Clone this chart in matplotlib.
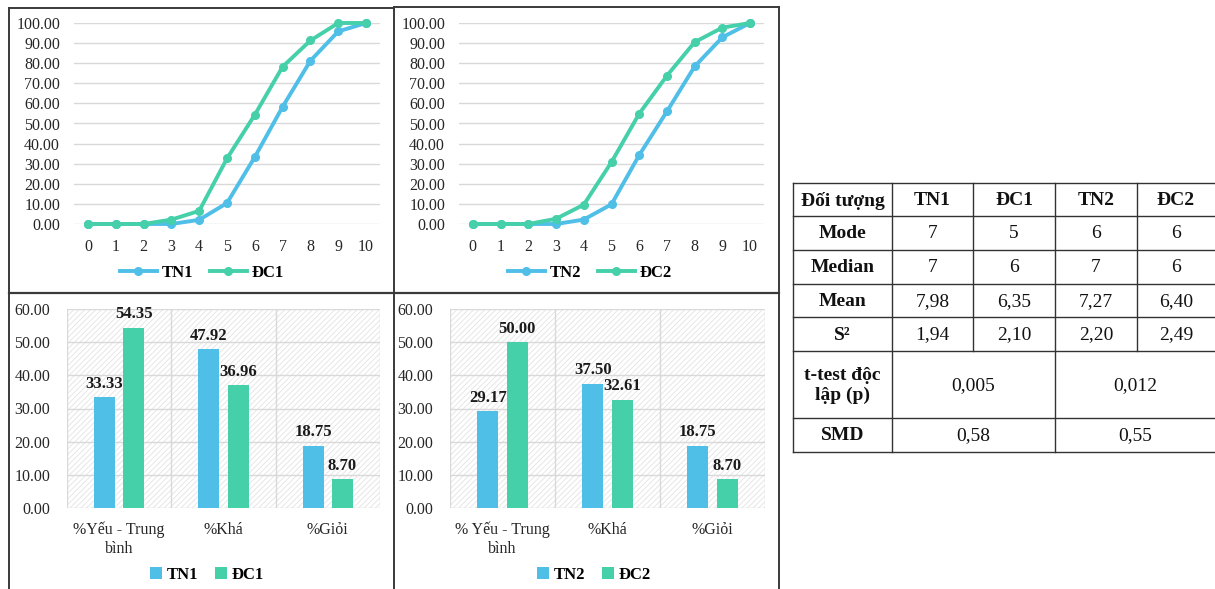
import matplotlib.pyplot as plt
import numpy as np
from matplotlib.patches import Rectangle

plt.rcParams['font.family'] = ['Liberation Serif', 'DejaVu Serif']
plt.rcParams['hatch.color'] = '#e3e3e3'
plt.rcParams['hatch.linewidth'] = 0.6

# cumulative frequency (%) by score
scores = list(range(11))
tn1 = [0, 0, 0, 0, 2.08, 10.42, 33.33, 58.33, 81.25, 95.83, 100]
dc1 = [0, 0, 0, 2.17, 6.52, 32.61, 54.35, 78.26, 91.30, 100, 100]
tn2 = [0, 0, 0, 0, 2.2, 9.8, 34.3, 56.0, 78.4, 92.9, 100]
dc2 = [0, 0, 0, 2.6, 9.6, 30.8, 54.9, 73.8, 90.5, 97.7, 100]

# grade groups (%)
groups1 = ['%Yếu - Trung\nbình', '%Khá', '%Giỏi']
groups2 = ['% Yếu - Trung\nbình', '%Khá', '%Giỏi']
bar_tn1 = [33.33, 47.92, 18.75]
bar_dc1 = [54.35, 36.96, 8.70]
bar_tn2 = [29.17, 37.50, 18.75]
bar_dc2 = [50.00, 32.61, 8.70]

# statistics table
tbl_header = ['Đối tượng', 'TN1', 'ĐC1', 'TN2', 'ĐC2']
tbl_rows = [['Mode', '7', '5', '6', '6'],
            ['Median', '7', '6', '7', '6'],
            ['Mean', '7,98', '6,35', '7,27', '6,40'],
            ['S²', '1,94', '2,10', '2,20', '2,49']]
ttest_vals = ['0,005', '0,012']
smd_vals = ['0,58', '0,55']

BLUE = '#4fbfe8'
GREEN = '#45d0aa'
GRID = '#d9d9d9'
W, H = 1215, 589


def rect(x0, y0, x1, y1):
    # pixel box -> figure fraction
    return [x0 / W, 1 - y1 / H, (x1 - x0) / W, (y1 - y0) / H]


def line_chart(ax, a, b, la, lb, cx):
    ax.plot(scores, a, color=BLUE, lw=2.8, marker='o', ms=5.5, label=la, clip_on=False, zorder=3)
    ax.plot(scores, b, color=GREEN, lw=2.8, marker='o', ms=5.5, label=lb, clip_on=False, zorder=4)
    ax.set_xlim(-0.5, 10.5)
    ax.set_ylim(0, 100)
    ax.set_xticks(scores)
    ax.set_yticks(np.arange(0, 101, 10))
    ax.yaxis.set_major_formatter(plt.FormatStrFormatter('%.2f'))
    ax.grid(axis='y', color=GRID, lw=1)
    ax.set_axisbelow(True)
    for s in ax.spines.values():
        s.set_visible(False)
    ax.tick_params(length=0, labelsize=11.5, colors='#262626')
    ax.tick_params(axis='x', pad=11)
    ax.tick_params(axis='y', pad=10)
    ax.legend(loc='center', bbox_to_anchor=(cx / W, 1 - 273 / H), bbox_transform=fig.transFigure,
              ncol=2, frameon=False, prop={'weight': 'bold', 'size': 12},
              handlelength=2.2, columnspacing=1.0, handletextpad=0.3)


def bar_chart(ax, cats, a, b, la, lb, cx):
    x = np.arange(len(cats))
    ax.add_patch(Rectangle((0, 0), 1, 1, transform=ax.transAxes, facecolor='white',
                           hatch='//////', lw=0, zorder=0))
    ba = ax.bar(x - 0.14, a, width=0.2, color=BLUE, label=la, zorder=3)
    bb = ax.bar(x + 0.14, b, width=0.2, color=GREEN, label=lb, zorder=3)
    for bars in (ba, bb):
        ax.bar_label(bars, fmt='%.2f', padding=4, fontsize=12, fontweight='bold', color='#1a1a1a')
    ax.set_xlim(-0.5, 2.5)
    ax.set_ylim(0, 60)
    ax.set_yticks(np.arange(0, 61, 10))
    ax.yaxis.set_major_formatter(plt.FormatStrFormatter('%.2f'))
    ax.set_xticks(x)
    ax.set_xticklabels(cats, linespacing=1.25)
    ax.set_xticks(np.arange(-0.5, 3, 1), minor=True)
    ax.grid(axis='y', color=GRID, lw=1)
    ax.grid(axis='x', which='minor', color=GRID, lw=1)
    ax.set_axisbelow(True)
    for s in ax.spines.values():
        s.set_visible(False)
    ax.tick_params(which='both', length=0, labelsize=11.5, colors='#262626')
    ax.tick_params(axis='x', pad=10)
    ax.tick_params(axis='y', pad=12)
    ax.legend(loc='center', bbox_to_anchor=(cx / W, 1 - 575 / H), bbox_transform=fig.transFigure,
              ncol=2, frameon=False, prop={'weight': 'bold', 'size': 12},
              handlelength=0.7, handleheight=0.7, columnspacing=1.0, handletextpad=0.3)


fig = plt.figure(figsize=(W / 100, H / 100), dpi=100)

ax1 = fig.add_axes(rect(74, 23, 380, 224))
ax2 = fig.add_axes(rect(459, 23, 764, 224))
ax3 = fig.add_axes(rect(67, 309, 380, 508))
ax4 = fig.add_axes(rect(450, 309, 765, 508))

line_chart(ax1, tn1, dc1, 'TN1', 'ĐC1', 202)
line_chart(ax2, tn2, dc2, 'TN2', 'ĐC2', 590)
bar_chart(ax3, groups1, bar_tn1, bar_dc1, 'TN1', 'ĐC1', 207)
bar_chart(ax4, groups2, bar_tn2, bar_dc2, 'TN2', 'ĐC2', 594)

# overlay in pixel coordinates for panel borders and the table
ov = fig.add_axes([0, 0, 1, 1], zorder=-1)
ov.set_xlim(0, W)
ov.set_ylim(H, 0)
ov.axis('off')
bc = '#3a3a3a'
ov.plot([9, 9], [8, H], color=bc, lw=1.4)
ov.plot([394, 394], [7, H], color=bc, lw=1.4)
ov.plot([779, 779], [7, H], color=bc, lw=1.4)
ov.plot([9, 394], [8, 8], color=bc, lw=1.4)
ov.plot([394, 779], [7, 7], color=bc, lw=1.4)
ov.plot([9, 779], [293, 293], color=bc, lw=1.6)

cols = [793, 892, 973, 1055, 1137, 1219]
rows = [183, 216, 250, 284, 317, 351, 418, 452]
tc = '#333333'
for y in rows:
    ov.plot([cols[0], cols[-1]], [y, y], color=tc, lw=1.0)
for x in (cols[0], cols[1], cols[3]):
    ov.plot([x, x], [rows[0], rows[-1]], color=tc, lw=1.0)
for x in (cols[2], cols[4]):
    ov.plot([x, x], [rows[0], rows[5]], color=tc, lw=1.0)

centers = [(cols[i] + cols[i + 1]) / 2 for i in range(5)]
centers[4] = 1176
fs = 14
for i, h in enumerate(tbl_header):
    ov.text(centers[i], (rows[0] + rows[1]) / 2 + 1, h, ha='center', va='center',
            fontsize=fs, fontweight='bold', color='#111111')
for r, vals in enumerate(tbl_rows):
    yc = (rows[r + 1] + rows[r + 2]) / 2 + 1
    for i, v in enumerate(vals):
        ov.text(centers[i], yc, v, ha='center', va='center', fontsize=fs,
                fontweight='bold' if i == 0 else 'normal', color='#111111')
for r, label, vals in ((5, 't-test độc\nlập (p)', ttest_vals), (6, 'SMD', smd_vals)):
    yc = (rows[r] + rows[r + 1]) / 2 + 1
    ov.text(centers[0], yc, label, ha='center', va='center', fontsize=fs,
            fontweight='bold', color='#111111', linespacing=1.25)
    ov.text((cols[1] + cols[3]) / 2, yc, vals[0], ha='center', va='center', fontsize=fs, color='#111111')
    ov.text(1135, yc, vals[1], ha='center', va='center', fontsize=fs, color='#111111')

fig.savefig('out.png', dpi=100)
